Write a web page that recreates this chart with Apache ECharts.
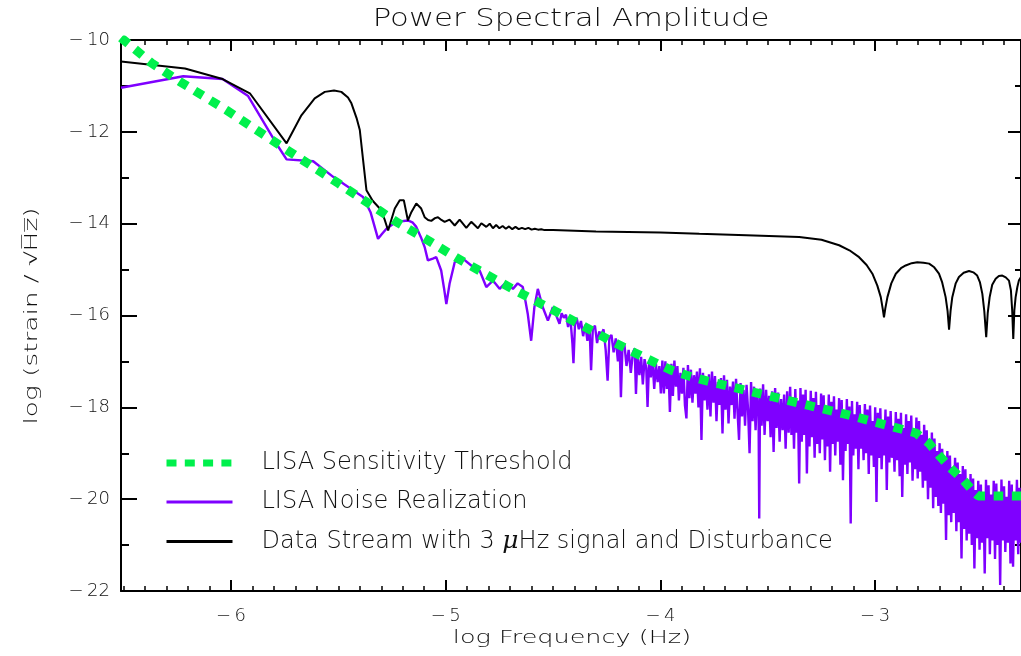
<!DOCTYPE html>
<html><head><meta charset="utf-8">
<script src="https://cdn.jsdelivr.net/npm/echarts@6/dist/echarts.min.js"></script>
<style>html,body{margin:0;padding:0;background:#fff}#c{width:1021px;height:656px}</style>
</head><body><div id="c"></div>
<script>
const X_MIN = -6.512, X_MAX = -2.321;
const Y_MIN = -22, Y_MAX = -10, Y_STEP = 2;
const xMajorTicks = [-6, -5, -4, -3];
const xMinorTicks = [-6.5,-6.4,-6.3,-6.2,-6.1,-6,-5.9,-5.8,-5.7,-5.6,-5.5,-5.4,-5.3,-5.2,-5.1,-5,-4.9,-4.8,-4.7,-4.6,-4.5,-4.4,-4.3,-4.2,-4.1,-4,-3.9,-3.8,-3.7,-3.6,-3.5,-3.4,-3.3,-3.2,-3.1,-3,-2.9,-2.8,-2.7,-2.6,-2.5,-2.4];

const titleText = 'Power Spectral Amplitude';
const xName = 'log Frequency (Hz)';
const yName = 'log (strain / \u221AH\u0305z\u0305)';
const NAME_THRESH = 'LISA Sensitivity Threshold';
const NAME_NOISE = 'LISA Noise Realization';
const NAME_STREAM = 'Data Stream with 3 \u03BCHz signal and Disturbance';

const thresholdPts = [[-6.512,-9.95],[-6.37,-10.5],[-6.24,-10.9],[-6.02,-11.53],[-5.76,-12.33],[-5.5,-13.12],[-5.23,-13.96],[-5.08,-14.37],[-4.95,-14.74],[-4.81,-15.11],[-4.67,-15.47],[-4.52,-15.83],[-4.38,-16.18],[-4.24,-16.53],[-4.09,-16.88],[-3.95,-17.19],[-3.86,-17.33],[-3.78,-17.43],[-3.62,-17.61],[-3.46,-17.79],[-3.3,-17.97],[-3.13,-18.16],[-2.97,-18.36],[-2.81,-18.56],[-2.75,-18.78],[-2.7,-19.06],[-2.65,-19.32],[-2.59,-19.58],[-2.54,-19.85],[-2.52,-19.93],[-2.321,-19.93]];

const streamPts = [[-6.512,-10.47],[-6.214,-10.62],[-6.039,-10.85],[-5.912,-11.16],[-5.741,-12.25],[-5.672,-11.64],[-5.61,-11.27],[-5.563,-11.13],[-5.52,-11.1],[-5.486,-11.13],[-5.455,-11.25],[-5.439,-11.38],[-5.415,-11.7],[-5.4,-11.96],[-5.385,-12.6],[-5.369,-13.27],[-5.34,-13.5],[-5.307,-13.67],[-5.285,-13.9],[-5.268,-14.15],[-5.252,-13.9],[-5.237,-13.67],[-5.214,-13.49],[-5.195,-13.49],[-5.176,-13.93],[-5.16,-13.75],[-5.137,-13.56],[-5.114,-13.67],[-5.098,-13.86],[-5.082,-13.92],[-5.067,-13.94],[-5.05,-13.88],[-5.036,-13.86],[-5.02,-13.92],[-5.005,-13.96],[-4.982,-13.91],[-4.958,-14.04],[-4.935,-13.91],[-4.904,-14.09],[-4.881,-13.96],[-4.85,-14.1],[-4.834,-13.99],[-4.811,-14.07],[-4.795,-14.0],[-4.78,-14.1],[-4.765,-14.03],[-4.75,-14.1],[-4.735,-14.05],[-4.72,-14.11],[-4.705,-14.06],[-4.69,-14.12],[-4.675,-14.07],[-4.66,-14.12],[-4.645,-14.09],[-4.63,-14.12],[-4.615,-14.09],[-4.6,-14.13],[-4.585,-14.11],[-4.57,-14.13],[-4.555,-14.12],[-4.54,-14.14],[-4.5,-14.14],[-4.3,-14.17],[-4.0,-14.19],[-3.819,-14.22],[-3.6,-14.25],[-3.354,-14.29],[-3.25,-14.35],[-3.168,-14.47],[-3.12,-14.58],[-3.075,-14.73],[-3.04,-14.9],[-3.013,-15.09],[-2.99,-15.35],[-2.974,-15.6],[-2.965,-15.85],[-2.959,-16.04],[-2.953,-15.85],[-2.943,-15.6],[-2.925,-15.3],[-2.904,-15.09],[-2.88,-14.97],[-2.858,-14.91],[-2.83,-14.86],[-2.804,-14.84],[-2.775,-14.85],[-2.749,-14.87],[-2.725,-14.95],[-2.703,-15.09],[-2.688,-15.28],[-2.672,-15.6],[-2.663,-15.9],[-2.656,-16.31],[-2.649,-15.9],[-2.641,-15.6],[-2.625,-15.3],[-2.61,-15.16],[-2.588,-15.07],[-2.563,-15.03],[-2.543,-15.06],[-2.525,-15.13],[-2.512,-15.28],[-2.501,-15.53],[-2.492,-15.9],[-2.483,-16.47],[-2.476,-15.95],[-2.467,-15.6],[-2.455,-15.33],[-2.439,-15.2],[-2.424,-15.14],[-2.408,-15.13],[-2.392,-15.17],[-2.377,-15.24],[-2.368,-15.45],[-2.362,-15.89],[-2.357,-16.51],[-2.352,-15.89],[-2.346,-15.6],[-2.338,-15.38],[-2.331,-15.24],[-2.321,-15.16]];

const noisePts = [[-6.512,-11.04],[-6.222,-10.79],[-6.039,-10.85],[-5.92,-11.22],[-5.78,-12.32],[-5.741,-12.6],[-5.617,-12.64],[-5.524,-12.98],[-5.385,-13.42],[-5.35,-13.75],[-5.315,-14.33],[-5.296,-14.22],[-5.276,-14.11],[-5.23,-13.96],[-5.176,-13.93],[-5.155,-13.97],[-5.137,-14.07],[-5.115,-14.3],[-5.098,-14.51],[-5.083,-14.8],[-5.06,-14.76],[-5.044,-14.73],[-5.021,-15.02],[-5.008,-15.4],[-4.997,-15.75],[-4.982,-15.31],[-4.958,-14.84],[-4.92,-14.76],[-4.881,-14.91],[-4.842,-15.02],[-4.811,-15.38],[-4.78,-15.24],[-4.749,-15.42],[-4.718,-15.27],[-4.687,-15.42],[-4.665,-15.3],[-4.641,-15.38],[-4.628,-15.7],[-4.618,-15.96],[-4.602,-16.55],[-4.587,-15.82],[-4.571,-15.42],[-4.548,-15.82],[-4.524,-16.11],[-4.501,-15.82],[-4.485,-16.0],[-4.47,-16.18],
[-4.46,-15.95],[-4.45,-16.05],[-4.44,-15.98],[-4.43,-16.25],[-4.42,-16.02],[-4.41,-16.6],[-4.405,-17.04],[-4.398,-16.2],[-4.39,-16.05],[-4.38,-16.3],[-4.37,-16.12],[-4.36,-16.45],[-4.35,-16.2],[-4.34,-16.55],[-4.33,-16.25],[-4.323,-17.19],[-4.315,-16.3],[-4.305,-16.22],[-4.295,-16.6],[-4.285,-16.35],[-4.275,-16.42],[-4.265,-16.3],[-4.255,-16.75],[-4.246,-17.42],[-4.238,-16.5],[-4.228,-16.42],[-4.218,-16.8],[-4.208,-16.5],[-4.198,-17.0],[-4.19,-16.6],[-4.184,-17.78],[-4.177,-16.7],[-4.168,-16.62],[-4.158,-17.1],[-4.148,-16.75],[-4.138,-17.25],[-4.128,-16.8],[-4.12,-16.72],[-4.114,-17.71],[-4.107,-16.85],[-4.098,-17.3],[-4.09,-16.9],[-4.082,-17.5],[-4.074,-16.95],[-4.066,-17.15],[-4.06,-17.99],[-4.053,-17.0],[-4.045,-17.35],[-4.037,-16.98],[-4.029,-17.6],[-4.021,-17.05],[-4.013,-17.45],[-4.005,-17.1],[-3.998,-17.7],
[-3.991,-16.98],[-3.984,-17.7],[-3.977,-17.0],[-3.97,-17.6],[-3.963,-17.12],[-3.956,-18.1],[-3.949,-17.05],[-3.942,-17.75],[-3.935,-16.98],[-3.928,-17.55],[-3.921,-17.1],[-3.914,-17.85],[-3.907,-17.25],[-3.9,-17.7],[-3.893,-17.14],[-3.886,-17.95],[-3.879,-18.24],[-3.872,-17.08],[-3.865,-17.8],[-3.858,-17.18],[-3.851,-17.9],[-3.844,-17.3],[-3.837,-17.7],[-3.83,-17.22],[-3.823,-18.0],[-3.816,-17.15],[-3.809,-18.71],[-3.802,-17.25],[-3.795,-17.85],[-3.788,-17.38],[-3.781,-18.05],[-3.774,-17.28],[-3.767,-18.2],[-3.76,-17.22],[-3.753,-17.9],[-3.746,-17.32],[-3.739,-18.3],[-3.732,-17.45],[-3.725,-17.95],[-3.718,-17.36],[-3.711,-18.57],[-3.704,-17.3],[-3.697,-18.05],[-3.69,-17.4],[-3.683,-18.35],[-3.676,-17.55],[-3.669,-17.95],[-3.662,-17.44],[-3.655,-18.25],[-3.648,-17.38],[-3.641,-18.1],[-3.634,-18.71],[-3.627,-17.47],[-3.62,-18.2],[-3.613,-17.62],[-3.606,-18.4],[-3.599,-17.51],[-3.592,-18.05],[-3.585,-19.0],[-3.578,-17.45],[-3.571,-18.3],[-3.564,-17.55],[-3.557,-18.5],[-3.55,-17.68],[-3.543,-18.2],[-3.54,-20.42],[-3.536,-17.59],[-3.529,-18.4],[-3.522,-17.5],[-3.515,-18.6],[-3.508,-17.62],[-3.501,-18.3],[-3.494,-17.75],[-3.487,-18.65],[-3.48,-17.65],[-3.473,-18.97],[-3.466,-17.58],[-3.459,-18.45],[-3.452,-17.68],[-3.445,-18.75],[-3.438,-17.82],[-3.431,-18.5],[-3.424,-17.72],[-3.417,-18.9],[-3.41,-17.65],[-3.403,-18.55],
[-3.396,-17.55],[-3.39,-18.6],[-3.384,-17.78],[-3.378,-18.9],[-3.372,-17.6],[-3.366,-18.55],[-3.36,-17.85],[-3.354,-19.66],[-3.348,-17.58],[-3.342,-18.75],[-3.336,-17.72],[-3.33,-18.6],[-3.324,-17.62],[-3.318,-19.44],[-3.312,-17.9],[-3.306,-18.85],[-3.3,-17.64],[-3.294,-18.65],[-3.288,-17.8],[-3.282,-19.1],[-3.276,-17.66],[-3.27,-18.8],[-3.264,-17.95],[-3.258,-19.0],[-3.252,-17.7],[-3.246,-18.7],[-3.24,-17.74],[-3.234,-19.15],[-3.228,-17.98],[-3.222,-18.85],[-3.216,-17.72],[-3.21,-19.4],[-3.204,-17.88],[-3.198,-18.8],[-3.192,-17.76],[-3.186,-19.05],[-3.18,-18.05],[-3.174,-18.75],[-3.168,-17.8],[-3.162,-19.25],[-3.156,-17.84],[-3.15,-19.59],[-3.144,-18.1],[-3.138,-18.95],[-3.132,-17.82],[-3.126,-18.8],[-3.12,-17.98],[-3.114,-20.53],[-3.108,-17.86],[-3.102,-19.05],[-3.096,-18.15],[-3.09,-18.9],[-3.084,-17.88],[-3.078,-19.35],[-3.072,-17.95],[-3.066,-18.9],[-3.06,-18.2],[-3.054,-19.15],[-3.048,-17.93],[-3.042,-19.0],[-3.036,-18.05],[-3.03,-19.45],[-3.024,-17.96],[-3.018,-19.05],[-3.012,-18.3],[-3.006,-19.3],[-3.0,-18.0],[-2.994,-20.06],[-2.988,-18.12],[-2.982,-19.1],[-2.976,-18.02],[-2.97,-19.35],[-2.964,-18.35],[-2.958,-19.05],[-2.952,-18.05],[-2.946,-19.8],[-2.94,-18.2],[-2.934,-19.2],[-2.928,-18.08],[-2.922,-19.1],[-2.916,-18.4],[-2.91,-19.4],[-2.904,-18.1],[-2.898,-19.15],[-2.892,-18.25],[-2.886,-19.5],[-2.88,-18.12],[-2.874,-19.95],[-2.868,-18.45],[-2.862,-19.25],[-2.856,-18.15],[-2.85,-19.45],[-2.844,-18.3],[-2.838,-19.2],[-2.832,-18.18],[-2.826,-19.6],[-2.82,-18.5],[-2.814,-19.35],[-2.808,-18.22],[-2.802,-19.55],[-2.796,-18.3],[-2.79,-19.4],[-2.784,-18.6],[-2.778,-19.75],[-2.772,-18.38],[-2.766,-19.6],[-2.76,-18.5],[-2.754,-20.0],[-2.748,-18.8],[-2.742,-19.75],[-2.736,-18.55],[-2.73,-20.2],[-2.724,-18.68],[-2.718,-19.95],[-2.712,-18.95],[-2.706,-20.15],[-2.7,-18.78],[-2.694,-20.3],[-2.688,-18.9],[-2.682,-20.1],[-2.676,-19.15],[-2.67,-20.89],[-2.664,-18.95],[-2.658,-20.35],[-2.652,-19.05],[-2.646,-20.5],[-2.64,-19.3],[-2.634,-20.3],[-2.628,-19.1],[-2.622,-20.7],[-2.616,-19.2],[-2.61,-20.5],[-2.604,-19.45],[-2.598,-21.29],[-2.592,-19.28],[-2.586,-20.65],[-2.58,-19.35],[-2.574,-20.9],[-2.568,-19.6],[-2.562,-20.75],[-2.556,-19.45],[-2.55,-21.0],[-2.544,-19.55],[-2.538,-21.51],[-2.532,-19.8],[-2.526,-20.85],[-2.52,-19.6],[-2.514,-21.1],[-2.508,-19.68],[-2.502,-20.95],[-2.496,-19.85],[-2.49,-21.62],[-2.484,-19.58],[-2.478,-20.85],[-2.472,-19.7],[-2.466,-21.2],[-2.46,-19.9],[-2.454,-20.9],[-2.448,-19.6],[-2.442,-21.3],[-2.436,-19.66],[-2.43,-21.0],[-2.424,-19.88],[-2.418,-21.87],[-2.412,-19.57],[-2.406,-20.9],[-2.4,-19.72],[-2.394,-21.15],[-2.388,-19.95],[-2.382,-20.95],[-2.376,-19.6],[-2.37,-21.4],[-2.364,-19.68],[-2.358,-21.47],[-2.352,-19.9],[-2.346,-20.9],[-2.34,-19.58],[-2.334,-21.2],[-2.328,-19.75],[-2.322,-20.95]];

const FONT = 'DejaVu Sans';
const TXT = '#111111';
const C_GREEN = '#00f04c', C_PURPLE = '#7f00ff', C_BLACK = '#000000';
const fmtNum = v => (v < 0 ? '\u2212\u2009' + Math.abs(v) : String(v));

const chart = echarts.init(document.getElementById('c'), null, {renderer: 'canvas'});

function xAxisDef(pos, major, labels) {
  return {
    type: 'value', min: X_MIN, max: X_MAX, position: pos,
    axisLine: {show: major, onZero: false, lineStyle: {color: '#000', width: 2}},
    axisTick: {show: true, inside: true, length: major ? 11 : 5, customValues: major ? xMajorTicks : xMinorTicks,
      lineStyle: {color: '#000', width: major ? 2 : 1.5}},
    axisLabel: {show: labels, customValues: xMajorTicks, formatter: fmtNum, margin: 16,
      fontFamily: FONT, fontSize: 18, fontWeight: 200, color: TXT},
    splitLine: {show: false}
  };
}
function yAxisDef(pos, labels) {
  const left = pos === 'left';
  return {
    type: 'value', min: Y_MIN, max: Y_MAX, interval: Y_STEP, position: pos,
    axisLine: {show: true, onZero: false, lineStyle: {color: '#000', width: 2}},
    axisTick: {show: true, inside: true, length: left ? 16 : 13, lineStyle: {color: '#000', width: 2}},
    minorTick: {show: true, splitNumber: 2, length: left ? 8 : 6, lineStyle: {color: '#000', width: 2}},
    axisLabel: {show: labels, formatter: fmtNum, margin: 11, fontFamily: FONT, fontSize: 18, fontWeight: 200, color: TXT},
    splitLine: {show: false}
  };
}

const option = {
  backgroundColor: '#ffffff',
  animation: false,
  grid: {left: 121, right: -1, top: 40, bottom: 65, containLabel: false},
  xAxis: [xAxisDef('bottom', true, true), xAxisDef('bottom', false, false), xAxisDef('top', true, false), xAxisDef('top', false, false)],
  yAxis: [yAxisDef('left', true), yAxisDef('right', false)],
  legend: {
    orient: 'vertical', left: 163, top: 451, padding: 0, itemWidth: 66, itemHeight: 14, itemGap: 15,
    selectedMode: false,
    data: [
      {name: NAME_THRESH, itemStyle: {opacity: 0}, lineStyle: {color: C_GREEN, width: 7, type: [10, 8.3], cap: 'butt'}},
      {name: NAME_NOISE, itemStyle: {opacity: 0}, lineStyle: {color: C_PURPLE, width: 3}},
      {name: NAME_STREAM, itemStyle: {opacity: 0}, lineStyle: {color: C_BLACK, width: 3}}
    ],
    formatter: function (name) {
      if (name === NAME_STREAM) return '{g|}{n|Data Stream with 3 }{m|\u03BC}{n|Hz signal and Disturbance}';
      return '{g|}{n|' + name + '}';
    },
    textStyle: {
      color: TXT, fontFamily: FONT, fontSize: 24, fontWeight: 200,
      rich: {
        g: {width: 24},
        n: {color: TXT, fontFamily: FONT, fontSize: 24, fontWeight: 200, lineHeight: 26},
        m: {color: TXT, fontFamily: 'DejaVu Serif', fontStyle: 'italic', fontSize: 25, lineHeight: 26}
      }
    }
  },
  graphic: [
    {type: 'text', x: 571, y: 20, scaleX: 1.28, silent: true,
      style: {text: titleText, fontFamily: FONT, fontSize: 24, fontWeight: 200, fill: TXT, align: 'center', verticalAlign: 'middle', textAlign: 'center', textVerticalAlign: 'middle'}},
    {type: 'text', x: 572, y: 639, scaleX: 1.5, silent: true,
      style: {text: xName, fontFamily: FONT, fontSize: 17, fontWeight: 200, fill: TXT, align: 'center', verticalAlign: 'middle', textAlign: 'center', textVerticalAlign: 'middle'}},
    {type: 'text', x: 33, y: 316, rotation: Math.PI / 2, scaleX: 1.55, silent: true,
      style: {text: yName, fontFamily: FONT, fontSize: 17, fontWeight: 200, fill: TXT, align: 'center', verticalAlign: 'middle', textAlign: 'center', textVerticalAlign: 'middle'}}
  ],
  series: [
    {name: NAME_NOISE, type: 'line', data: noisePts, xAxisIndex: 0, yAxisIndex: 0, symbol: 'none', showSymbol: false,
      lineStyle: {color: C_PURPLE, width: 2.4}, itemStyle: {color: C_PURPLE}, z: 2, clip: true},
    {name: NAME_STREAM, type: 'line', data: streamPts, xAxisIndex: 0, yAxisIndex: 0, symbol: 'none', showSymbol: false,
      lineStyle: {color: C_BLACK, width: 2}, itemStyle: {color: C_BLACK}, z: 3, clip: true},
    {name: NAME_THRESH, type: 'line', data: thresholdPts, xAxisIndex: 0, yAxisIndex: 0, symbol: 'none', showSymbol: false,
      lineStyle: {color: C_GREEN, width: 9, type: [9.5, 8.7], cap: 'butt'}, itemStyle: {color: C_GREEN}, z: 4, clip: true}
  ]
};
chart.setOption(option);
</script></body></html>
